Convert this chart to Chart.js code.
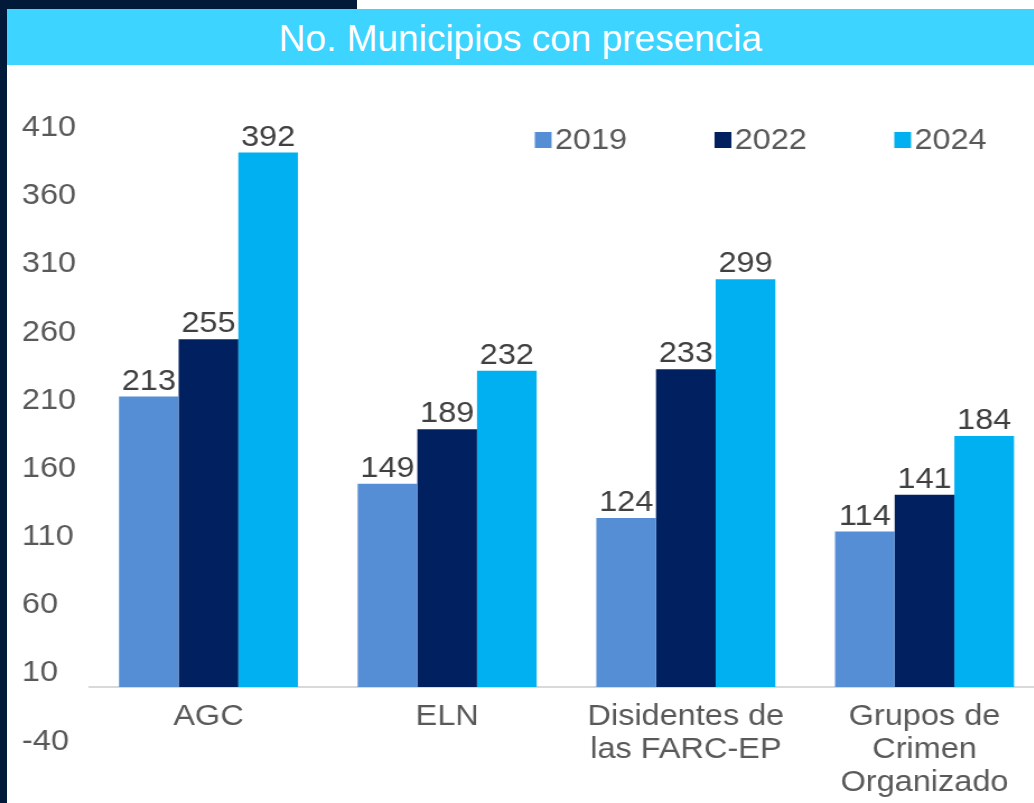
<!DOCTYPE html>
<html>
<head>
<meta charset="utf-8">
<title>No. Municipios con presencia</title>
<script src="https://cdn.jsdelivr.net/npm/chart.js@4.4.1/dist/chart.umd.min.js"></script>
<style>
  html, body { margin: 0; padding: 0; width: 1034px; height: 803px; overflow: hidden; background: #fff; }
  body { position: relative; font-family: "Liberation Sans", Arial, sans-serif; }
  #frameLeft { position: absolute; left: 0; top: 0; width: 7px; height: 803px; background: #011a3a; z-index: 3; }
  #frameTop { position: absolute; left: 0; top: 0; width: 357px; height: 9px; background: #011a3a; z-index: 3; }
  #title {
    position: absolute; left: 7px; top: 9px; width: 1027px; height: 56px;
    background: #3dd5ff; color: #fff; font-size: 37px; line-height: 59px;
    text-align: center; overflow: hidden; z-index: 2;
  }
  /* the source picture is slightly stretched sideways */
  #wrap { position: absolute; left: 0; top: 65px; width: 950px; height: 738px; transform: scaleX(1.12); transform-origin: 0 0; }
</style>
</head>
<body>
<div id="frameLeft"></div>
<div id="frameTop"></div>
<div id="title">No. Municipios con presencia</div>
<div id="wrap"><canvas id="chart" width="950" height="738"></canvas></div>

<script>
// data
var categories = ['AGC', 'ELN', ['Disidentes de', 'las FARC-EP'], ['Grupos de', 'Crimen', 'Organizado']];
var years = ['2019', '2022', '2024'];
var values2019 = [213, 149, 124, 114];
var values2022 = [255, 189, 233, 141];
var values2024 = [392, 232, 299, 184];
var yMin = -40;
var yMax = 410;
var yStep = 50;

var colors = ['#558ed5', '#002060', '#00b0f0'];
var fontFamily = '"Liberation Sans", Arial, sans-serif';
var textGrey = '#595959';

Chart.defaults.font.family = fontFamily;

// value on top of every bar
var barLabels = {
    id: 'barLabels',
    afterDatasetsDraw: function(chart) {
        var ctx = chart.ctx;
        ctx.save();
        ctx.font = '29px ' + fontFamily;
        ctx.fillStyle = '#404040';
        ctx.textAlign = 'center';
        ctx.textBaseline = 'alphabetic';
        chart.data.datasets.forEach(function(ds, i) {
            chart.getDatasetMeta(i).data.forEach(function(bar, j) {
                ctx.fillText(ds.data[j], bar.x, bar.y - 7);
            });
        });
        ctx.restore();
    }
};

// legend in a row inside the plot, top right, small gap box -> text
var innerLegend = {
    id: 'innerLegend',
    afterDraw: function(chart) {
        var ctx = chart.ctx;
        var area = chart.chartArea;
        var boxW = 15, boxH = 16, gap = 3, spacing = 78;
        var yMid = area.top + 12;
        var x = area.right - 51;
        ctx.save();
        ctx.font = '29px ' + fontFamily;
        ctx.textBaseline = 'middle';
        ctx.textAlign = 'left';
        for (var i = chart.data.datasets.length - 1; i >= 0; i--) {
            var ds = chart.data.datasets[i];
            var w = ctx.measureText(ds.label).width;
            var textLeft = x - w;
            var boxLeft = textLeft - gap - boxW;
            ctx.fillStyle = ds.backgroundColor;
            ctx.fillRect(boxLeft, yMid - boxH / 2, boxW, boxH);
            ctx.fillStyle = textGrey;
            ctx.fillText(ds.label, textLeft, yMid + 1);
            x = boxLeft - spacing;
        }
        ctx.restore();
    }
};

var datasets = [values2019, values2022, values2024].map(function(vals, i) {
    return {
        label: years[i],
        data: vals,
        backgroundColor: colors[i],
        borderWidth: 0,
        categoryPercentage: 0.75,
        barPercentage: 1.0
    };
});

new Chart(document.getElementById('chart').getContext('2d'), {
    type: 'bar',
    data: {
        labels: categories,
        datasets: datasets
    },
    plugins: [barLabels, innerLegend],
    options: {
        responsive: false,
        animation: false,
        layout: {
            padding: { left: 19.6, right: 18, top: 63, bottom: 61.5 }
        },
        plugins: {
            tooltip: { enabled: false },
            legend: { display: false }
        },
        scales: {
            x: {
                position: { y: 0 },
                grid: { display: false, drawTicks: false },
                border: { display: true, color: '#d9d9d9', width: 2 },
                ticks: {
                    color: textGrey,
                    font: { size: 29, lineHeight: 1.14 },
                    padding: 13.5,
                    maxRotation: 0,
                    autoSkip: false
                }
            },
            y: {
                min: yMin,
                max: yMax,
                grid: { display: false, drawTicks: false },
                border: { display: false },
                ticks: {
                    stepSize: yStep,
                    color: textGrey,
                    font: { size: 29 },
                    crossAlign: 'far',
                    padding: 0
                },
                afterFit: function(scale) {
                    scale.width = 60;
                }
            }
        }
    }
});
</script>
</body>
</html>
